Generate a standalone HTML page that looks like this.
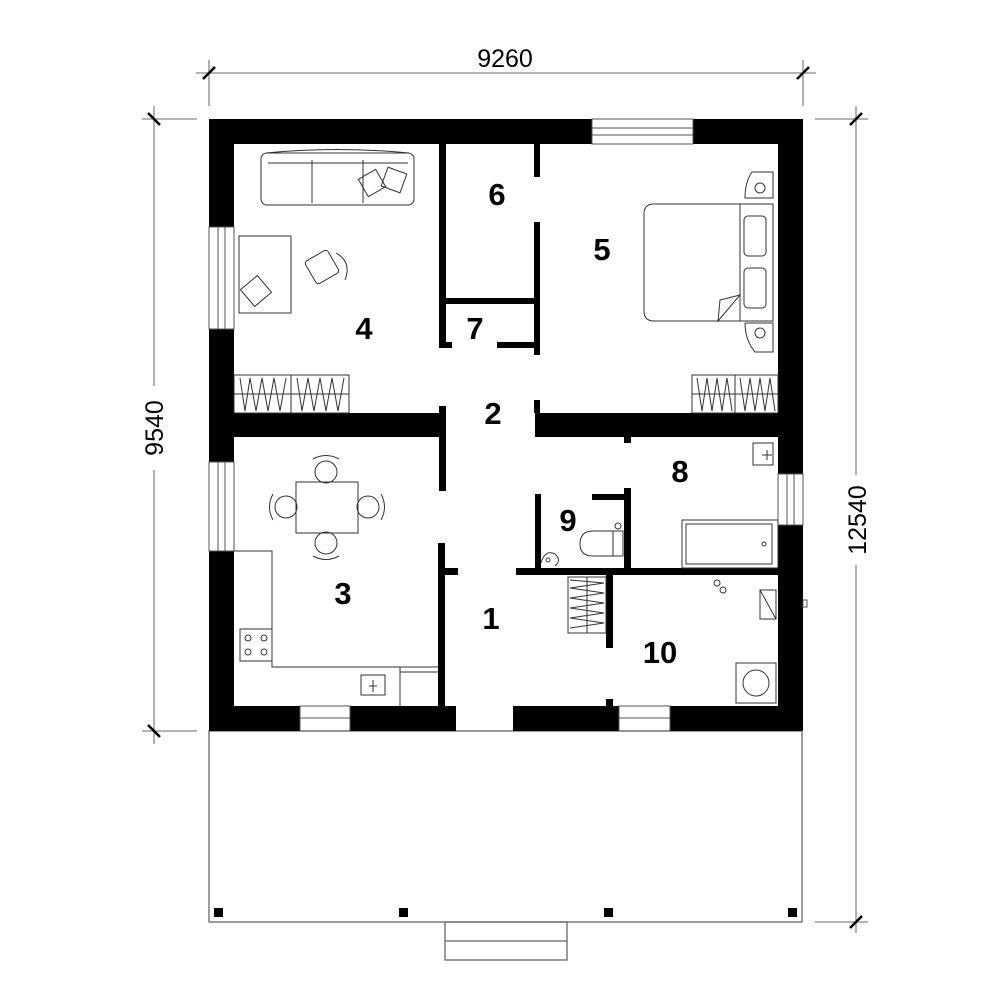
<!DOCTYPE html>
<html><head><meta charset="utf-8"><style>body{margin:0;background:#fff}svg{display:block}</style></head>
<body>
<svg width="1000" height="1000" viewBox="0 0 1000 1000" xmlns="http://www.w3.org/2000/svg" font-family="Liberation Sans, sans-serif">
<rect width="1000" height="1000" fill="#fff"/>
<g stroke="#888" stroke-width="1.3" fill="none">
<line x1="196" y1="73" x2="816" y2="73"/>
<line x1="209" y1="60" x2="209" y2="106"/>
<line x1="803" y1="60" x2="803" y2="106"/>
<line x1="154" y1="106" x2="154" y2="386"/>
<line x1="154" y1="470" x2="154" y2="744"/>
<line x1="142" y1="119" x2="197" y2="119"/>
<line x1="142" y1="731" x2="197" y2="731"/>
<line x1="856" y1="106" x2="856" y2="475"/>
<line x1="856" y1="565" x2="856" y2="933"/>
<line x1="815" y1="119" x2="868" y2="119"/>
<line x1="815" y1="922" x2="868" y2="922"/>
</g>
<g stroke="#000" stroke-width="2.5">
<line x1="203" y1="79" x2="215" y2="67"/><line x1="797" y1="79" x2="809" y2="67"/>
<line x1="148" y1="113" x2="160" y2="125"/><line x1="148" y1="725" x2="160" y2="737"/>
<line x1="850" y1="125" x2="862" y2="113"/><line x1="850" y1="928" x2="862" y2="916"/>
</g>
<text x="505" y="67" font-size="25" text-anchor="middle">9260</text>
<text transform="translate(163,428) rotate(-90)" font-size="25" text-anchor="middle">9540</text>
<text transform="translate(866,520) rotate(-90)" font-size="25" text-anchor="middle">12540</text>
<g fill="none" stroke="#666" stroke-width="1.3">
<rect x="209" y="731" width="593" height="191"/>
<rect x="445" y="922" width="122" height="38"/>
<line x1="445" y1="941" x2="567" y2="941"/>
</g>
<g fill="#000">
<rect x="214" y="908" width="9" height="9"/><rect x="399" y="908" width="9" height="9"/>
<rect x="604" y="908" width="9" height="9"/><rect x="788" y="908" width="9" height="9"/>
</g>
<g fill="#000">
<rect x="209" y="119" width="383" height="25"/><rect x="693" y="119" width="110" height="25"/>
<rect x="209" y="119" width="25" height="108"/><rect x="209" y="329" width="25" height="133"/><rect x="209" y="551" width="25" height="180"/>
<rect x="778" y="119" width="25" height="355"/><rect x="778" y="525" width="25" height="206"/>
<rect x="209" y="706" width="91" height="25"/><rect x="350" y="706" width="106" height="25"/>
<rect x="513" y="706" width="106" height="25"/><rect x="670" y="706" width="133" height="25"/>
<rect x="439" y="144" width="7" height="204"/>
<rect x="446" y="298" width="94" height="6"/>
<rect x="534" y="144" width="6" height="33"/><rect x="534" y="222" width="6" height="133"/>
<rect x="439" y="342" width="13" height="6"/><rect x="497" y="342" width="43" height="6"/>
<rect x="234" y="413" width="212" height="24"/><rect x="439" y="406" width="7" height="85"/>
<rect x="535" y="413" width="243" height="24"/><rect x="534" y="400" width="6" height="13"/>
<rect x="624" y="437" width="7" height="6"/>
<rect x="535" y="494" width="6" height="74"/>
<rect x="516" y="568" width="262" height="7"/>
<rect x="624" y="488" width="7" height="80"/><rect x="592" y="494" width="39" height="6"/>
<rect x="438" y="543" width="7" height="163"/><rect x="445" y="568" width="13" height="7"/>
<rect x="606" y="575" width="7" height="73"/><rect x="606" y="699" width="7" height="7"/>
</g>
<g fill="none" stroke="#555" stroke-width="1">
<rect x="592" y="119" width="101" height="25"/><line x1="592" y1="128" x2="693" y2="128"/><line x1="592" y1="135" x2="693" y2="135"/>
<rect x="209" y="227" width="25" height="102"/><line x1="218" y1="227" x2="218" y2="329"/><line x1="225" y1="227" x2="225" y2="329"/>
<rect x="209" y="462" width="25" height="89"/><line x1="218" y1="462" x2="218" y2="551"/><line x1="225" y1="462" x2="225" y2="551"/>
<rect x="300" y="706" width="50" height="25"/><line x1="300" y1="718" x2="350" y2="718"/>
<rect x="619" y="706" width="51" height="25"/><line x1="619" y1="718" x2="670" y2="718"/>
<rect x="778" y="474" width="25" height="51"/><line x1="787" y1="474" x2="787" y2="525"/><line x1="794" y1="474" x2="794" y2="525"/>
<rect x="803" y="600" width="4" height="7"/>
</g>
<g fill="none" stroke="#333" stroke-width="1">
<rect x="261" y="153" width="153" height="52" rx="6"/>
<path d="M266 153 Q337 146 409 153"/><line x1="312" y1="160" x2="312" y2="203"/><line x1="363" y1="160" x2="363" y2="203"/>
<line x1="268" y1="163" x2="408" y2="163"/>
<rect x="362" y="173" width="20" height="20" transform="rotate(-30 372 183)"/>
<rect x="384" y="170" width="20" height="20" transform="rotate(20 394 180)"/>
<rect x="239" y="236" width="52" height="77"/>
<rect x="245" y="280" width="22" height="22" transform="rotate(-40 256 291)"/>
<rect x="309" y="254" width="26" height="26" rx="3" transform="rotate(-30 322 267)"/>
<path d="M336 253 Q352 262 345 280"/>
<rect x="234" y="375" width="115" height="38"/><line x1="291" y1="375" x2="291" y2="413"/><line x1="234" y1="394" x2="349" y2="394"/>
<path d="M240 378 L245 411 L250 378 L256 411 L262 378 L268 411 L274 378 L280 411 L286 378 M297 378 L302 411 L308 378 L314 411 L320 378 L326 411 L332 378 L338 411 L344 378"/>
<rect x="692" y="375" width="86" height="38"/><line x1="735" y1="375" x2="735" y2="413"/><line x1="692" y1="394" x2="778" y2="394"/>
<path d="M697 378 L702 411 L707 378 L712 411 L717 378 L722 411 L727 378 L732 411 M740 378 L745 411 L750 378 L755 411 L760 378 L765 411 L770 378 L775 411"/>
<path d="M654 204 L773 204 L773 321 L654 321 Q644 321 644 311 L644 214 Q644 204 654 204"/>
<line x1="740" y1="204" x2="740" y2="321"/>
<rect x="744" y="216" width="22" height="40" rx="4"/><rect x="744" y="268" width="22" height="40" rx="4"/>
<path d="M718 321 L740 295 L720 300 Z"/>
<path d="M752 172 L773 172 L773 198 L745 198 Q745 182 752 172"/><circle cx="760" cy="188" r="5"/>
<path d="M745 323 L773 323 L773 352 L755 352 Q745 340 745 323"/><circle cx="760" cy="333" r="5"/>
<rect x="296" y="482" width="62" height="51"/>
<circle cx="326" cy="472" r="11"/><circle cx="326" cy="543" r="11"/><circle cx="286" cy="507" r="11"/><circle cx="368" cy="507" r="11"/>
<path d="M313 459 Q326 452 339 459 M313 556 Q326 563 339 556 M273 494 Q266 507 273 520 M381 494 Q388 507 381 520"/>
<polyline points="234,551 272,551 272,667 438,667"/>
<line x1="400" y1="667" x2="400" y2="706"/><line x1="400" y1="672" x2="438" y2="672"/>
<rect x="361" y="675" width="24" height="20"/><path d="M373 680 V692 M369 686 H377"/>
<rect x="240" y="629" width="32" height="32"/>
<circle cx="248" cy="638" r="3"/><circle cx="264" cy="638" r="3"/><circle cx="248" cy="652" r="3"/><circle cx="264" cy="652" r="3"/>
<rect x="753" y="443" width="20" height="22"/><path d="M767 450 V460 M762 455 H772"/>
<rect x="682" y="520" width="96" height="48"/><rect x="686" y="524" width="86" height="40"/><circle cx="764" cy="544" r="2"/>
<path d="M613 531 L593 531 Q580 531 580 544 Q580 556 593 556 L613 556 M613 531 L623 531 L623 556 L613 556 Z"/>
<circle cx="618" cy="526" r="3"/>
<path d="M541 563 Q545 549 555 554 Q562 560 555 566" /><circle cx="548" cy="560" r="2"/>
<rect x="568" y="577" width="38" height="56"/><line x1="587" y1="577" x2="587" y2="633"/>
<path d="M570 580 L604 583 L570 588 L604 593 L570 598 L604 603 L570 608 L604 613 L570 618 L604 623 L570 628"/>
<circle cx="717" cy="583" r="3"/><circle cx="723" cy="590" r="3"/>
<rect x="760" y="590" width="16" height="29"/><line x1="760" y1="590" x2="776" y2="619"/>
<rect x="736" y="663" width="40" height="40"/><circle cx="756" cy="683" r="13"/>
</g>
<g font-size="31" font-weight="bold" text-anchor="middle">
<text x="497" y="205">6</text><text x="602" y="260">5</text>
<text x="364" y="339">4</text><text x="475" y="339">7</text>
<text x="493" y="424">2</text><text x="680" y="482">8</text>
<text x="568" y="531">9</text><text x="343" y="604">3</text>
<text x="491" y="629">1</text><text x="660" y="663">10</text>
</g>
</svg>
</body></html>
